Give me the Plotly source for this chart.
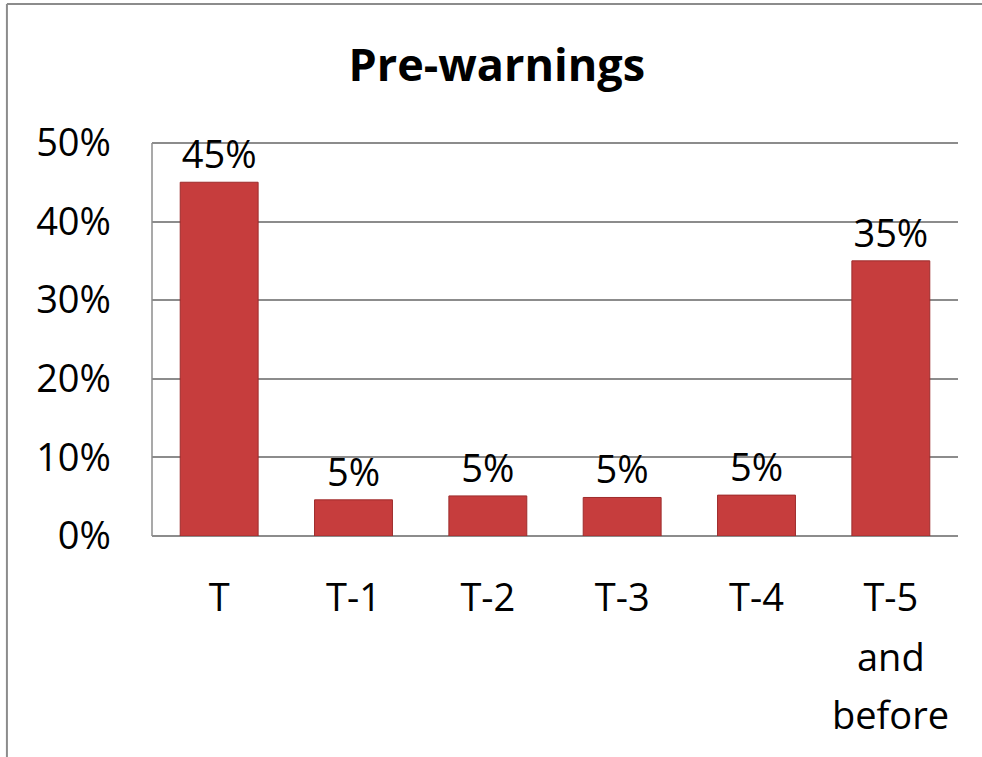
import plotly.graph_objects as go

# Share of pre-warnings by period before the event
periods = ["T", "T-1", "T-2", "T-3", "T-4", "T-5 and before"]
period_labels = ["T", "T-1", "T-2", "T-3", "T-4", "T-5"]
last_label_extra = ["and", "before"]
shares = [0.45, 0.046, 0.051, 0.049, 0.052, 0.35]
y_ticks = [0.0, 0.1, 0.2, 0.3, 0.4, 0.5]

FONT = "Open Sans"
GRID = "#8c8c8c"
SIZE = 38

fig = go.Figure(
    go.Bar(
        x=periods,
        y=shares,
        width=0.58,
        marker=dict(color="#C63D3D", line=dict(color="#9E2C2C", width=1)),
        texttemplate="%{y:.0%}",
        textposition="outside",
        textfont=dict(family=FONT, size=SIZE, color="black"),
        cliponaxis=False,
    )
)

fig.update_layout(
    width=982,
    height=757,
    margin=dict(l=152, r=24, t=139, b=221),
    paper_bgcolor="white",
    plot_bgcolor="white",
    showlegend=False,
    title=dict(
        text="<b>Pre-warnings</b>",
        font=dict(family=FONT, size=45, color="black"),
        x=0.506,
        xref="container",
        xanchor="center",
        y=1 - 65 / 757,
        yref="container",
        yanchor="middle",
    ),
    xaxis=dict(
        type="category",
        tickvals=periods,
        ticktext=period_labels,
        showgrid=False,
        showline=False,
        ticks="",
        tickfont=dict(family=FONT, size=SIZE, color="black"),
        ticklabelstandoff=36,
    ),
    yaxis=dict(
        range=[0, 0.505],
        tickvals=y_ticks,
        tickformat=".0%",
        showgrid=True,
        gridcolor=GRID,
        gridwidth=1.5,
        showline=False,
        zeroline=True,
        zerolinecolor=GRID,
        zerolinewidth=1.5,
        ticks="",
        tickfont=dict(family=FONT, size=SIZE, color="black"),
        ticklabelstandoff=40,
    ),
)

# Vertical axis line spanning 0% to 50%
fig.add_shape(
    type="line", xref="paper", yref="y",
    x0=0, x1=0, y0=0, y1=y_ticks[-1],
    line=dict(color=GRID, width=1.5),
)

# Remaining lines of the last category label, spaced like the tick text
for i, word in enumerate(last_label_extra):
    fig.add_annotation(
        x=periods[-1], xref="x",
        y=0, yref="y",
        yanchor="middle",
        yshift=-(62 + 58 * (i + 1)),
        text=word,
        showarrow=False,
        font=dict(family=FONT, size=SIZE, color="black"),
    )

# Outer chart frame (top and left edges)
fig.add_shape(
    type="line", xref="paper", yref="paper",
    x0=-0.18, x1=1.05, y0=1.34, y1=1.34,
    line=dict(color=GRID, width=2),
)
fig.add_shape(
    type="line", xref="paper", yref="paper",
    x0=-0.18, x1=-0.18, y0=1.34, y1=-0.6,
    line=dict(color=GRID, width=2),
)

fig.write_html("out.html")
